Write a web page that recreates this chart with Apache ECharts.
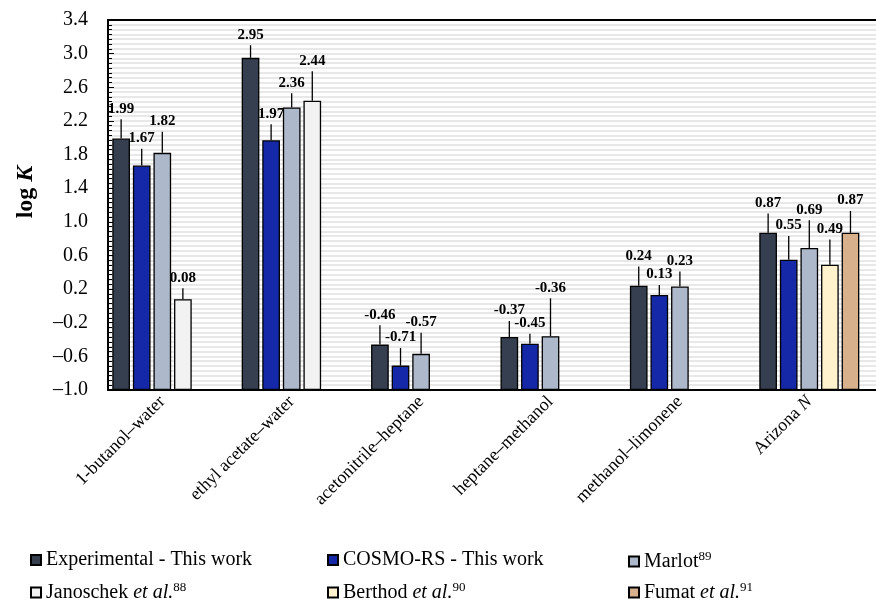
<!DOCTYPE html>
<html>
<head>
<meta charset="utf-8">
<script src="https://cdn.jsdelivr.net/npm/echarts@6/dist/echarts.min.js"></script>
<style>html,body{margin:0;padding:0;background:#fff}#c{width:876px;height:602px}</style>
</head>
<body>
<div id="c"></div>
<script>
// ---- data ----
const categories = ['1-butanol\u2013water', 'ethyl acetate\u2013water', 'acetonitrile\u2013heptane', 'heptane\u2013methanol', 'methanol\u2013limonene', 'Arizona N'];
const seriesNames = ['Experimental - This work', 'COSMO-RS - This work', 'Marlot', 'Janoschek et al.', 'Berthod et al.', 'Fumat et al.'];
const experimental    = [1.99, 2.95, -0.46, -0.37, 0.24, 0.87];
const experimentalErr = [0.23, 0.15, 0.23, 0.19, 0.23, 0.23];
const cosmo           = [1.67, 1.97, -0.71, -0.45, 0.13, 0.55];
const cosmoErr        = [0.20, 0.19, 0.21, 0.12, 0.12, 0.28];
const marlot          = [1.82, 2.36, -0.57, -0.36, 0.23, 0.69];
const marlotErr       = [0.25, 0.17, 0.25, 0.45, 0.18, 0.33];
const janoschek       = [0.08, 2.44, null, null, null, null];
const janoschekErr    = [0.13, 0.35, null, null, null, null];
const berthod         = [null, null, null, null, null, 0.49];
const berthodErr      = [null, null, null, null, null, 0.30];
const fumat           = [null, null, null, null, null, 0.87];
const fumatErr        = [null, null, null, null, null, 0.26];
const yMin = -1.0, yMax = 3.4, yStep = 0.4;

// ---- layout / style ----
const colors = ['#353f4f', '#1529a8', '#adb8ca', '#f2f2f2', '#fff2cc', '#d8b08c'];
const slots = [0, 1, 2, 3, 3, 4];
const NSLOTS = 5, CAT_GAP = 0.227, BAR_GAP = 0.164;
const SERIF = '"Liberation Serif", "Times New Roman", serif';
const values = [experimental, cosmo, marlot, janoschek, berthod, fumat];
const errs = [experimentalErr, cosmoErr, marlotErr, janoschekErr, berthodErr, fumatErr];
const shift = -yMin; // bars rise from the axis floor

const barSeries = seriesNames.map((name, i) => ({
  name: name,
  type: 'bar',
  xAxisIndex: 0, yAxisIndex: 0,
  stack: slots[i] === 3 ? 'slot3' : undefined,
  barGap: (BAR_GAP * 100) + '%',
  barCategoryGap: (CAT_GAP * 100) + '%',
  itemStyle: { color: colors[i], borderColor: '#000', borderWidth: 1.3 },
  data: values[i].map(v => v == null ? null : +(v + shift).toFixed(4))
}));

const errData = [];
values.forEach((arr, i) => arr.forEach((v, c) => {
  if (v != null) errData.push([c, v + shift, errs[i][c], slots[i], v]);
}));

const errSeries = {
  type: 'custom', name: 'errbars', xAxisIndex: 0, yAxisIndex: 0, z: 5, clip: false,
  encode: { x: 0, y: 1 },
  data: errData,
  renderItem: function (params, api) {
    const cat = api.value(0), v = api.value(1), e = api.value(2), slot = api.value(3), orig = api.value(4);
    const band = api.size([1, 0])[0];
    const avail = band * (1 - CAT_GAP);
    const w = avail / (NSLOTS + (NSLOTS - 1) * BAR_GAP);
    const base = api.coord([cat, v]);
    const cx = base[0] - avail / 2 + slot * w * (1 + BAR_GAP) + w / 2;
    const top = api.coord([cat, v + e])[1];
    return {
      type: 'group',
      children: [
        { type: 'line', shape: { x1: cx, y1: base[1], x2: cx, y2: top }, style: { stroke: '#000', lineWidth: 1.3 } },
        { type: 'text', style: { text: orig.toFixed(2), x: cx, y: top - 3, align: 'center', verticalAlign: 'bottom', font: 'bold 15px ' + SERIF, fill: '#000' } }
      ]
    };
  }
};

function legendFmt(name) {
  if (name === 'Marlot') return 'Marlot{sup|89}';
  if (name === 'Janoschek et al.') return 'Janoschek {it|et al.}{sup|88}';
  if (name === 'Berthod et al.') return 'Berthod {it|et al.}{sup|90}';
  if (name === 'Fumat et al.') return 'Fumat {it|et al.}{sup|91}';
  return name;
}
const legendPos = [[25, 545], [322, 545], [623, 545], [25, 576], [322, 576], [623, 576]];
const legends = seriesNames.map((n, i) => ({
  data: [n], left: legendPos[i][0], top: legendPos[i][1],
  itemWidth: 10, itemHeight: 10, icon: 'rect', selectedMode: false,
  formatter: legendFmt,
  textStyle: {
    fontFamily: SERIF, fontSize: 20, color: '#000',
    rich: {
      it: { fontFamily: SERIF, fontSize: 20, fontStyle: 'italic', color: '#000' },
      sup: { fontFamily: SERIF, fontSize: 13, color: '#000', padding: [0, 0, 10, 0] }
    }
  }
}));

const frameLine = { show: true, lineStyle: { color: '#000', width: 2 } };

const option = {
  animation: false,
  backgroundColor: '#fff',
  legend: legends,
  grid: [
    { left: 97.6, right: 2, top: 20, bottom: 212, show: false },
    { left: 108, right: 0, top: 20, bottom: 212, show: false }
  ],
  xAxis: [
    {
      type: 'category', gridIndex: 0, data: categories,
      axisLine: { show: false }, axisTick: { show: false },
      axisLabel: {
        rotate: 45, margin: 9, color: '#000', fontFamily: SERIF, fontSize: 18, interval: 0,
        formatter: v => v === 'Arizona N' ? 'Arizona {i|N}' : v,
        rich: { i: { fontFamily: SERIF, fontSize: 18, fontStyle: 'italic', color: '#000' } }
      }
    },
    { type: 'value', gridIndex: 1, position: 'bottom', min: 0, max: 1, axisLine: frameLine, axisTick: { show: false }, axisLabel: { show: false }, splitLine: { show: false } },
    { type: 'value', gridIndex: 1, position: 'top', min: 0, max: 1, axisLine: frameLine, axisTick: { show: false }, axisLabel: { show: false }, splitLine: { show: false } }
  ],
  yAxis: [
    { type: 'value', gridIndex: 0, min: yMin + shift, max: yMax + shift, show: false, splitLine: { show: false } },
    {
      type: 'value', gridIndex: 1, min: yMin + shift, max: yMax + shift, interval: yStep,
      name: 'log {k|K}', nameLocation: 'middle', nameGap: 70, nameRotate: 90,
      nameTextStyle: {
        fontFamily: SERIF, fontSize: 24, fontWeight: 'bold', color: '#000', padding: [0, 0, 0, 26],
        rich: { k: { fontFamily: SERIF, fontSize: 24, fontWeight: 'bold', fontStyle: 'italic', color: '#000' } }
      },
      axisLine: { show: true, lineStyle: { color: '#000', width: 2 } },
      axisTick: { show: true, inside: true, length: 6, lineStyle: { color: '#000', width: 1 } },
      minorTick: { show: true, splitNumber: 7, length: 4, lineStyle: { color: '#000', width: 1 } },
      splitLine: { show: true, lineStyle: { color: '#e8e8e8', width: 2 } },
      minorSplitLine: { show: true, lineStyle: { color: '#e8e8e8', width: 2 } },
      axisLabel: {
        margin: 20, color: '#000', fontFamily: SERIF, fontSize: 20,
        formatter: function (v) {
          const r = Math.round((v - shift) * 10) / 10;
          return r < 0 ? '\u2013' + Math.abs(r).toFixed(1) : r.toFixed(1);
        }
      }
    }
  ],
  series: barSeries.concat([errSeries])
};

const chart = echarts.init(document.getElementById('c'), null, { renderer: 'canvas' });
chart.setOption(option);
</script>
</body>
</html>
